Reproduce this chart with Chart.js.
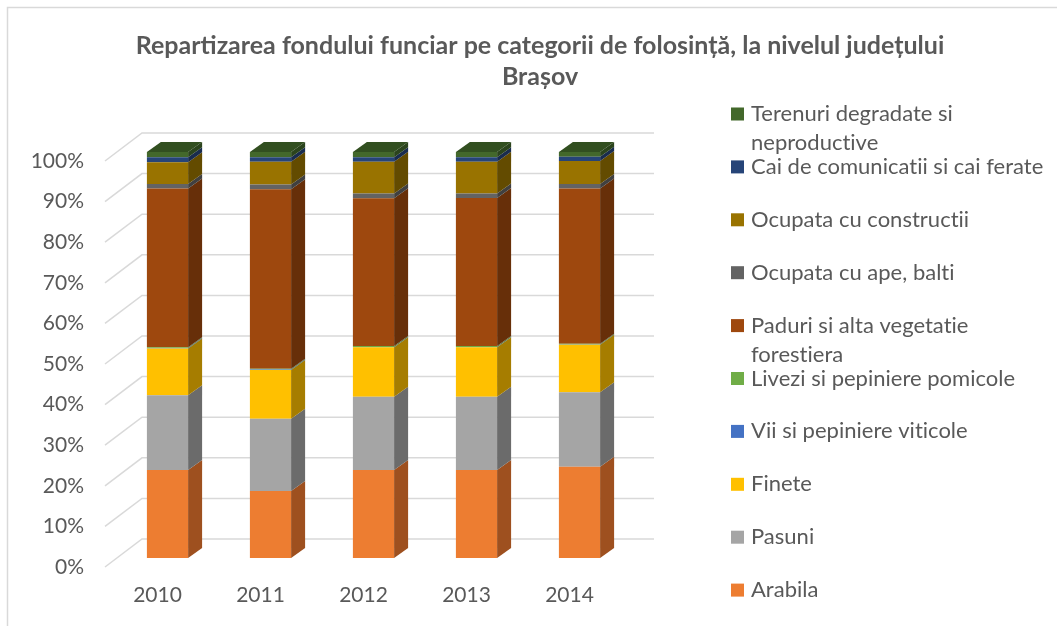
<!DOCTYPE html>
<html>
<head>
<meta charset="utf-8">
<script src="https://cdn.jsdelivr.net/npm/chart.js@4"></script>
<style>
  html, body { margin: 0; padding: 0; background: #fff; }
  #wrap { width: 1057px; height: 626px; position: relative; }
</style>
</head>
<body>
<div id="wrap"><canvas id="landChart"></canvas></div>
<script>
// Data
const years = ['2010', '2011', '2012', '2013', '2014'];

const arabila     = [21.7, 16.5, 21.7, 21.7, 22.5];
const pasuni      = [18.4, 17.8, 18.0, 18.0, 18.3];
const finete      = [11.5, 12.0, 12.2, 12.2, 11.7];
const vii         = [0.1, 0.1, 0.1, 0.1, 0.1];
const livezi      = [0.2, 0.2, 0.2, 0.2, 0.2];
const paduri      = [39.1, 44.2, 36.4, 36.5, 38.2];
const ape         = [1.1, 1.2, 1.2, 1.1, 1.1];
const constructii = [5.4, 5.6, 7.8, 7.8, 5.7];
const cai         = [1.2, 1.1, 1.1, 1.1, 1.0];
const terenuri    = [1.3, 1.3, 1.3, 1.3, 1.2];

const yTicks = [0, 10, 20, 30, 40, 50, 60, 70, 80, 90, 100];

const titleLines = ['Repartizarea fondului funciar pe categorii de folosință, la nivelul județului', 'Brașov'];

const FONT = 'Lato';
const TEXT_COLOR = '#595959';

// front colour, side colour, top colour
function series(label, data, front, side, top) {
    return {
        label: label,
        data: data,
        backgroundColor: front,
        sideColor: side,
        topColor: top,
        borderWidth: 0
    };
}

const datasets = [
    series('Arabila', arabila, '#ED7D31', '#9E501F', '#C8692A'),
    series('Pasuni', pasuni, '#A5A5A5', '#6B6B6B', '#8C8C8C'),
    series('Finete', finete, '#FFC000', '#A67D00', '#D9A300'),
    series('Vii si pepiniere viticole', vii, '#4472C4', '#2C4A80', '#3A61A7'),
    series('Livezi si pepiniere pomicole', livezi, '#70AD47', '#49702E', '#5F933C'),
    series('Paduri si alta vegetatie forestiera', paduri, '#9E480E', '#672F09', '#863D0C'),
    series('Ocupata cu ape, balti', ape, '#636363', '#404040', '#545454'),
    series('Ocupata cu constructii', constructii, '#997300', '#634B00', '#826200'),
    series('Cai de comunicatii si cai ferate', cai, '#264478', '#192C4E', '#203A66'),
    series('Terenuri degradate si neproductive', terenuri, '#43682B', '#2B441C', '#324F20')
];

// depth of the bars and of the back wall
const BAR_DX = 14, BAR_DY = 10;
const WALL = { frontLeft: -11, backLeft: 26, backRight: 23, frontDown: 9, backUp: 19 };

const framePlugin = {
    id: 'frame',
    beforeDraw(chart) {
        const c = chart.ctx;
        c.save();
        c.fillStyle = '#fff';
        c.fillRect(0, 0, chart.width, chart.height);
        c.strokeStyle = '#d9d9d9';
        c.lineWidth = 1.5;
        c.strokeRect(7.5, 7.5, chart.width + 20, chart.height + 20);
        c.restore();
    }
};

// back wall grid with the left side-wall diagonals
const wallPlugin = {
    id: 'wall',
    beforeDatasetsDraw(chart) {
        const c = chart.ctx;
        const y = chart.scales.y;
        const area = chart.chartArea;
        c.save();
        c.strokeStyle = '#d9d9d9';
        c.lineWidth = 1.5;
        yTicks.forEach(v => {
            const py = y.getPixelForValue(v);
            c.beginPath();
            c.moveTo(area.left + WALL.frontLeft, py + WALL.frontDown);
            c.lineTo(area.left + WALL.backLeft, py - WALL.backUp);
            c.lineTo(area.right + WALL.backRight, py - WALL.backUp);
            c.stroke();
        });
        c.restore();
    }
};

// side and top faces of each stacked column
const depthPlugin = {
    id: 'depth',
    afterDatasetsDraw(chart) {
        const c = chart.ctx;
        const n = chart.data.datasets.length;
        c.save();
        for (let d = 0; d < n; d++) {
            const ds = chart.data.datasets[d];
            const meta = chart.getDatasetMeta(d);
            meta.data.forEach(bar => {
                const { x, y, base, width } = bar.getProps(['x', 'y', 'base', 'width'], true);
                const r = x + width / 2;
                if (Math.abs(base - y) > 0.01) {
                    c.fillStyle = ds.sideColor;
                    c.beginPath();
                    c.moveTo(r, y);
                    c.lineTo(r + BAR_DX, y - BAR_DY);
                    c.lineTo(r + BAR_DX, base - BAR_DY);
                    c.lineTo(r, base);
                    c.closePath();
                    c.fill();
                }
                if (d === n - 1) {
                    const l = x - width / 2;
                    c.fillStyle = ds.topColor;
                    c.beginPath();
                    c.moveTo(l, y);
                    c.lineTo(l + BAR_DX, y - BAR_DY);
                    c.lineTo(r + BAR_DX, y - BAR_DY);
                    c.lineTo(r, y);
                    c.closePath();
                    c.fill();
                }
            });
        }
        c.restore();
    }
};

const titlePlugin = {
    id: 'titleText',
    afterDraw(chart) {
        const c = chart.ctx;
        c.save();
        c.fillStyle = TEXT_COLOR;
        c.font = 'bold 25px ' + FONT;
        c.textAlign = 'center';
        c.textBaseline = 'middle';
        titleLines.forEach((t, i) => c.fillText(t, 540, 46 + i * 31));
        c.restore();
    }
};

function wrapText(c, text, maxWidth) {
    const words = text.split(' ');
    const lines = [];
    let line = '';
    words.forEach(w => {
        const test = line ? line + ' ' + w : w;
        if (line && c.measureText(test).width > maxWidth) {
            lines.push(line);
            line = w;
        } else {
            line = test;
        }
    });
    lines.push(line);
    return lines;
}

const legendPlugin = {
    id: 'sideLegend',
    afterDraw(chart) {
        const c = chart.ctx;
        const boxX = 731, textX = 751, top = 114, step = 52.9, lineH = 29;
        c.save();
        c.font = '22px ' + FONT;
        c.letterSpacing = '0.01px';
        c.textBaseline = 'middle';
        c.textAlign = 'left';
        const items = chart.data.datasets.slice().reverse();
        items.forEach((ds, i) => {
            const cy = top + i * step;
            c.fillStyle = ds.backgroundColor;
            c.fillRect(boxX, cy - 6.5, 13, 13);
            c.fillStyle = TEXT_COLOR;
            wrapText(c, ds.label, chart.width - textX - 2).forEach((ln, k) => {
                c.fillText(ln, textX, cy + k * lineH);
            });
        });
        c.restore();
    }
};

new Chart(document.getElementById('landChart'), {
    type: 'bar',
    data: { labels: years, datasets: datasets },
    options: {
        responsive: true,
        maintainAspectRatio: false,
        animation: false,
        events: [],
        layout: { padding: { top: 152, right: 426, left: 0, bottom: 0 } },
        datasets: { bar: { categoryPercentage: 1, barPercentage: 0.4 } },
        plugins: {
            legend: { display: false },
            title: { display: false },
            tooltip: { enabled: false }
        },
        scales: {
            x: {
                stacked: true,
                grid: { display: false, drawTicks: false },
                border: { display: false },
                ticks: {
                    color: TEXT_COLOR,
                    font: { family: FONT, size: 21 },
                    padding: 25,
                    labelOffset: -10
                },
                afterFit: s => { s.height = 68; }
            },
            y: {
                stacked: true,
                min: 0,
                max: 100,
                grid: { display: false, drawTicks: false },
                border: { display: false },
                ticks: {
                    stepSize: 10,
                    color: TEXT_COLOR,
                    font: { family: FONT, size: 21 },
                    padding: 32,
                    labelOffset: 9,
                    callback: v => v + '%'
                },
                afterFit: s => { s.width = 116; }
            }
        }
    },
    plugins: [framePlugin, wallPlugin, depthPlugin, titlePlugin, legendPlugin]
});
</script>
</body>
</html>
